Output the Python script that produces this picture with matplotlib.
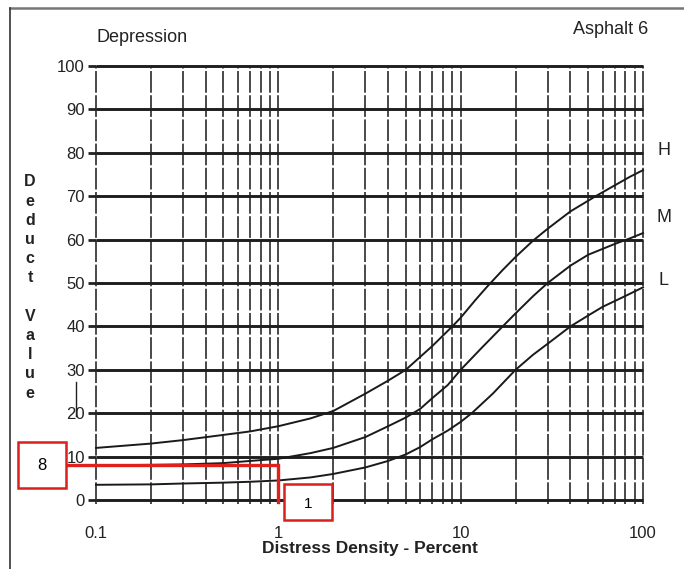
import numpy as np
import matplotlib.pyplot as plt
from matplotlib.patches import Rectangle
from matplotlib.lines import Line2D

plt.rcParams['font.family'] = ['Liberation Sans', 'DejaVu Sans']

# curve readings (density %, deduct value)
density_h = [0.1, 0.2, 0.3, 0.5, 0.7, 1, 1.5, 2, 3, 4, 5, 7, 9, 10, 12, 14, 17, 20, 25, 30, 40, 55, 70, 85, 100]
deduct_h = [12, 13, 13.8, 15, 15.8, 17, 18.8, 20.5, 24.5, 27.5, 30, 35.5, 40, 42, 46, 49.2, 53, 56, 59.8, 62.5, 66.5, 70, 72.5, 74.5, 76]

density_m = [0.1, 0.2, 0.3, 0.5, 0.7, 1, 1.5, 2, 3, 4, 5, 6, 7, 8.5, 10, 13, 17, 20, 25, 30, 40, 50, 70, 85, 100]
deduct_m = [8, 8.1, 8.2, 8.5, 9, 9.5, 10.8, 12, 14.5, 17, 19, 21, 23.5, 26.5, 30, 35, 40, 43, 47, 50, 54, 56.5, 59, 60.3, 61.5]

density_l = [0.1, 0.2, 0.3, 0.5, 0.7, 1, 1.5, 2, 3, 4, 5, 6, 7, 8.5, 10, 11.5, 15, 20, 25, 30, 40, 50, 60, 80, 100]
deduct_l = [3.5, 3.6, 3.8, 4, 4.2, 4.5, 5.2, 6, 7.5, 9, 10.5, 12.2, 14, 16, 18, 20, 24.5, 30, 33.5, 36, 40, 42.5, 44.5, 47, 49]

curve_names = ['H', 'M', 'L']
y_ticks = list(range(0, 101, 10))
x_ticks = [0.1, 1, 10, 100]
x_tick_labels = ['0.1', '1', '10', '100']
grid_x = [m * 10.0 ** e for e in (-1, 0, 1) for m in range(1, 10)] + [100]

read_density = 1
read_value = 8

W, H = 684, 569
fig = plt.figure(figsize=(W / 100, H / 100), dpi=100)

def fx(px):
    return px / W

def fy(py):
    return 1 - py / H

ax = fig.add_axes([fx(96), fy(500), fx(643) - fx(96), fy(66) - fy(500)])
ax.set_xscale('log')
ax.set_xlim(0.1, 100)
ax.set_ylim(0, 100)
for s in ax.spines.values():
    s.set_visible(False)

# grid
ax.vlines(grid_x, -1, 100, colors='#3a3a3a', linewidth=1.3,
          linestyles=(0, (12, 1.4)), clip_on=False, zorder=1)
ax.hlines(y_ticks, 0.1, 100, colors='#1e1e1e', linewidth=2.1, clip_on=False, zorder=2)

# curves
for xs, ys in [(density_h, deduct_h), (density_m, deduct_m), (density_l, deduct_l)]:
    ax.plot(xs, ys, color='#1a1a1a', linewidth=1.4, clip_on=False, zorder=3)

ax.set_yticks(y_ticks)
ax.set_yticklabels([str(v) for v in y_ticks], fontsize=12, color='#222')
ax.tick_params(axis='y', length=6, width=2, color='#222', pad=2)
ax.set_xticks(x_ticks)
ax.set_xticklabels(x_tick_labels, fontsize=12, color='#222')
ax.minorticks_off()
ax.tick_params(axis='x', length=0, pad=19)

# curve labels
label_y = {'H': deduct_h[-1] + 4.5, 'M': deduct_m[-1] + 3.5, 'L': deduct_l[-1] + 1.5}
for name in curve_names:
    ax.text(130, label_y[name], name, fontsize=13, color='#222', va='center', ha='center', clip_on=False)

fig.text(fx(96), fy(37), 'Depression', fontsize=13, color='#222', va='center', ha='left')
fig.text(fx(648), fy(30), 'Asphalt 6', fontsize=13, color='#222', va='center', ha='right')
fig.text(fx(370), fy(549), 'Distress Density - Percent', fontsize=12.5, color='#222',
         va='center', ha='center', fontweight='bold')

# stacked y label
letters = list('Deduct') + [''] + list('Value')
for i, ch in enumerate(letters):
    fig.text(fx(30), fy(182 + i * 19.2), ch, fontsize=11.5, fontweight='bold',
             color='#222', va='center', ha='center')

# outer frame
fig.add_artist(Line2D([fx(10), 1], [fy(8), fy(8)], color='#777', linewidth=1.8))
fig.add_artist(Line2D([fx(10), fx(10)], [fy(8), 0], color='#333', linewidth=1.2))
fig.add_artist(Line2D([fx(76), fx(76)], [fy(382), fy(416)], color='#222', linewidth=1))

# red reading lines
to_data = ax.transData.inverted()
x_left = to_data.transform(fig.transFigure.transform((fx(66), 0)))[0]
ax.plot([x_left, read_density, read_density], [read_value, read_value, -0.5],
        color='#e0201c', linewidth=2.4, clip_on=False, zorder=6, solid_joinstyle='miter')

box8 = Rectangle((fx(18), fy(488)), fx(48), fy(442) - fy(488), transform=fig.transFigure,
                 facecolor='white', edgecolor='#d9201c', linewidth=1.8, zorder=10)
box1 = Rectangle((fx(284), fy(520)), fx(48), fy(484) - fy(520), transform=fig.transFigure,
                 facecolor='white', edgecolor='#d9201c', linewidth=1.8, zorder=10)
fig.add_artist(box8)
fig.add_artist(box1)
fig.text(fx(42), fy(465), str(read_value), fontsize=12, ha='center', va='center', zorder=11)
fig.text(fx(308), fy(504), str(read_density), fontsize=11, ha='center', va='center', zorder=11)

fig.savefig('out.png', dpi=100)
